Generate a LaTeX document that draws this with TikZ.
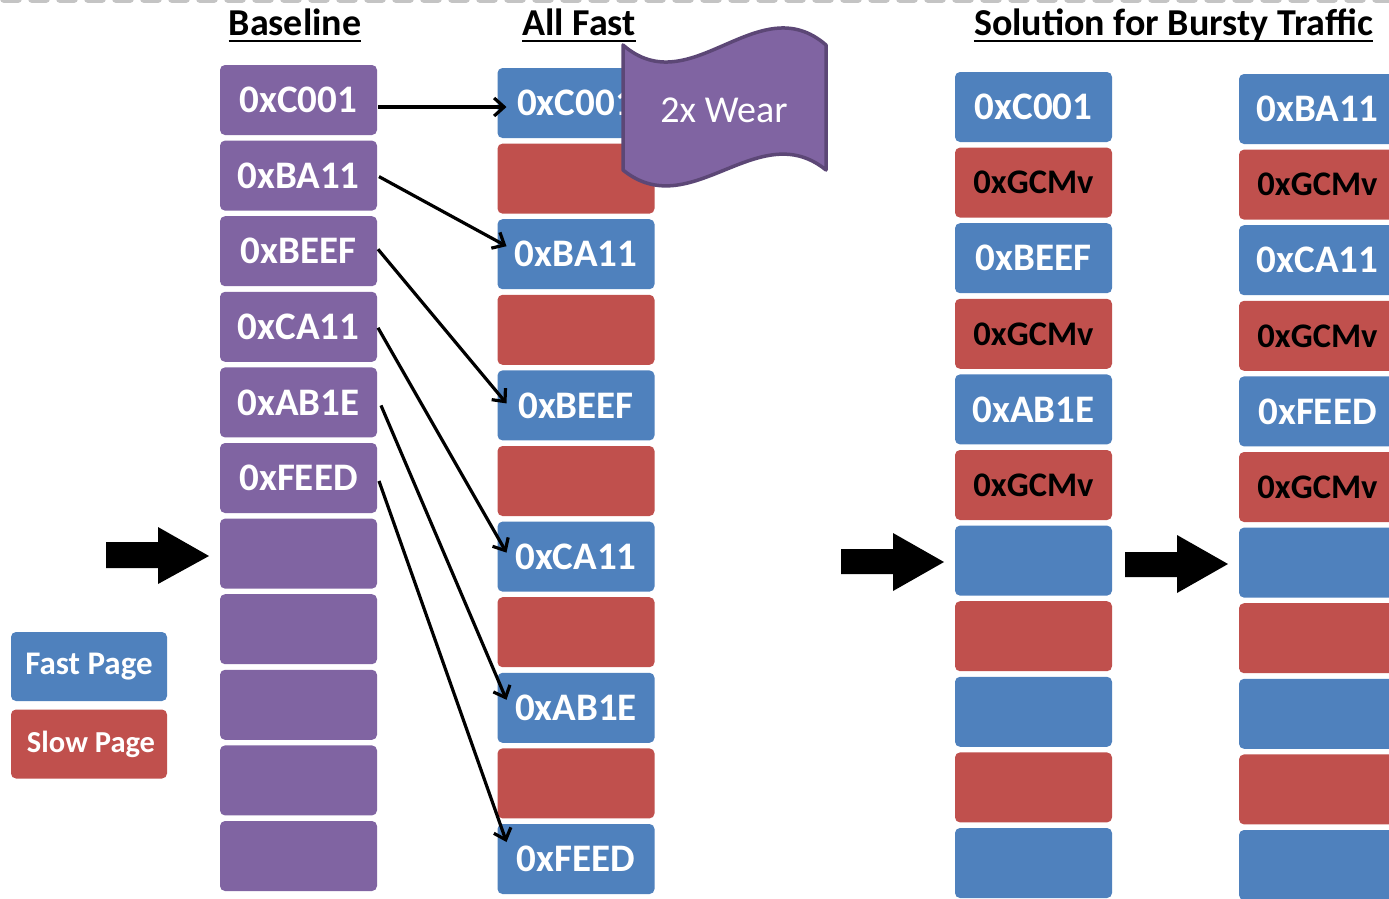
\documentclass[tikz,border=0pt]{standalone}
\usepackage{fontspec}
\setmainfont{Carlito}
\usetikzlibrary{arrows.meta,calc}
\definecolor{pblue}{HTML}{4F81BD}
\definecolor{pred}{HTML}{C0504D}
\definecolor{ppurp}{HTML}{8064A2}
\definecolor{pdark}{HTML}{5C4776}
\definecolor{dashgray}{HTML}{C4C4C4}
\tikzset{
  page/.style={rounded corners=5pt, minimum width=157pt, minimum height=70pt, inner sep=0pt, outer sep=0pt, text=white, font=\bfseries\fontsize{39}{41}\selectfont},
  fast/.style={page, fill=pblue},
  slow/.style={page, fill=pred, text=black, font=\bfseries\fontsize{34.5}{36}\selectfont},
  basepg/.style={page, fill=ppurp},
  legendbox/.style={minimum width=156pt, minimum height=69pt, text=white, font=\bfseries\fontsize{33}{35}\selectfont},
  ttl/.style={font=\bfseries\fontsize{38}{40}\selectfont, inner sep=0pt},
  ul/.style={line width=2.5pt},
  link/.style={line width=3.2pt, -{Straight Barb[length=10pt,width=18pt]}},
  blockarrow/.style={fill=black},
  wave/.style={fill=ppurp, draw=pdark, line width=3.5pt, line join=round},
}
\begin{document}
\begin{tikzpicture}[x=1pt,y=-1pt]
\fill[white] (0,0) rectangle (1389,898);
\useasboundingbox (0,0) rectangle (1389,898);
% top dashed border
\draw[dashgray, line width=8pt, line cap=round, dash pattern=on 14pt off 14pt] (4,-1) -- (1400,-1);

% titles
\node[ttl, anchor=base] (t1) at (295,35) {Baseline};
\node[ttl, anchor=base] (t2) at (579,35) {All Fast};
\node[ttl, anchor=base] (t3) at (1173.5,35) {Solution for Bursty Traffic};
\foreach \t in {t1,t2,t3}
  \draw[ul] ($(\t.base west)+(0,6)$) -- ($(\t.base east)+(0,6)$);

% baseline column
\foreach \i/\t in {1/0xC001,2/0xBA11,3/0xBEEF,4/0xCA11,5/0xAB1E,6/0xFEED,7/{},8/{},9/{},10/{},11/{}}
  \node[basepg] (b\i) at (298.5,{100+75.6*(\i-1)}) {\t};

% all fast column
\foreach \i/\s/\t in {1/fast/0xC001,2/slow/{},3/fast/0xBA11,4/slow/{},5/fast/0xBEEF,6/slow/{},7/fast/0xCA11,8/slow/{},9/fast/0xAB1E,10/slow/{},11/fast/0xFEED}
  \node[\s] (f\i) at (576,{103+75.6*(\i-1)}) {\t};

% solution columns
\foreach \i/\s/\t in {1/fast/0xC001,2/slow/0xGCMv,3/fast/0xBEEF,4/slow/0xGCMv,5/fast/0xAB1E,6/slow/0xGCMv,7/fast/{},8/slow/{},9/fast/{},10/slow/{},11/fast/{}}
  \node[\s] (s\i) at (1033.5,{107+75.6*(\i-1)}) {\t};
\foreach \i/\s/\t in {1/fast/0xBA11,2/slow/0xGCMv,3/fast/0xCA11,4/slow/0xGCMv,5/fast/0xFEED,6/slow/0xGCMv,7/fast/{},8/slow/{},9/fast/{},10/slow/{},11/fast/{}}
  \node[\s] (r\i) at (1317.5,{109+75.6*(\i-1)}) {\t};

% legend
\node[fast, legendbox] (lf) at (89,666.5) {Fast Page};
\node[slow, legendbox, font=\bfseries\fontsize{30.5}{33}\selectfont] (ls) at (89,744) {\hspace*{4pt}Slow Page};

% mapping arrows
\draw[link] ($(b1.east)+(1,7)$) -- ($(f1.west)+(9,4)$);
\draw[link] ($(b2.east)+(2,1)$) -- ($(f3.west)+(9,-8)$);
\draw[link] ($(b3.east)+(1,-2)$) -- ($(f5.west)+(9,-2)$);
\draw[link] ($(b4.east)+(1,1)$) -- ($(f7.west)+(9,-4)$);
\draw[link] ($(b5.east)+(4,3)$) -- ($(f9.west)+(9,-8)$);
\draw[link] ($(b6.east)+(2,3)$) -- ($(f11.west)+(9,-17)$);

% block arrows
\fill[blockarrow] (106,542) -- (158,542) -- (158,527) -- (209,556) -- (158,584) -- (158,568) -- (106,568) -- cycle;
\fill[blockarrow] (841,549) -- (893,549) -- (893,533) -- (944,562) -- (893,591) -- (893,574) -- (841,574) -- cycle;
\fill[blockarrow] (1125,552) -- (1177,552) -- (1177,535) -- (1228,564) -- (1177,593) -- (1177,577) -- (1125,577) -- cycle;

% wear banner
\filldraw[wave] (623,45) .. controls (690.7,104) and (758.3,-14) .. (826,45) -- (826,170) .. controls (758.3,115) and (690.7,225) .. (623,170) -- cycle;
\node[text=white, font=\fontsize{38}{40}\selectfont] (wear) at (724,110) {2x Wear};
\end{tikzpicture}
\end{document}
